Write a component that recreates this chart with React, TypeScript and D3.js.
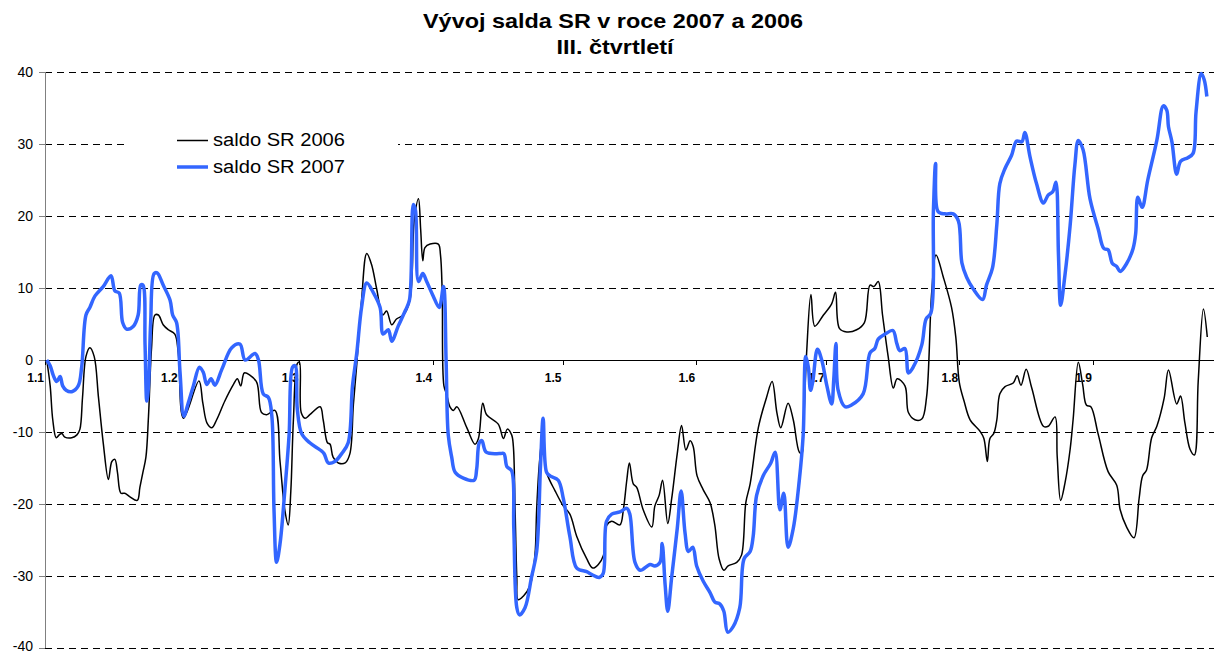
import React from "react";
import * as d3 from "d3";

// x = days since 1.1 (working-day samples), values in bn SKK
const days2006 = [0.4,1.2,1.8,2.6,3.3,3.9,4.6,6.2,7.4,8.1,8.7,9.5,10.4,11.4,12.4,13.5,14.7,15.5,16.2,16.8,17.6,18.5,19.7,21.4,22.0,22.7,23.4,24.0,24.7,25.5,26.3,27.4,28.6,30.1,30.9,32.1,35.7,36.6,37.6,38.7,39.8,41.7,43.7,44.6,45.4,46.2,47.5,49.1,50.2,51.4,53.3,54.5,55.6,56.4,57.0,57.6,58.5,59.0,59.4,60.3,61.4,63.8,64.5,65.5,66.1,66.8,68.0,69.6,70.7,71.5,72.3,73.4,74.6,75.7,76.9,78.3,79.2,80.4,81.5,83.1,84.6,85.6,86.6,87.1,87.6,88.1,89.3,91.2,91.7,92.1,92.5,93.1,93.9,94.7,95.5,97.8,99.7,100.5,101.5,102.4,105.1,106.3,107.2,108.2,108.6,109.0,109.4,109.7,110.9,112.5,113.6,114.0,114.6,115.4,116.3,118.3,120.2,121.7,123.3,125.6,127.0,128.3,129.5,130.2,131.4,133.3,134.1,134.9,135.5,136.4,137.2,138.7,140.7,141.4,142.4,143.2,144.4,145.3,146.6,147.6,148.6,149.6,150.3,151.2,152.6,154.2,155.3,156.3,157.4,158.4,160.4,161.5,162.5,163.5,165.4,167.3,168.6,169.7,170.6,172.3,173.5,174.9,175.5,175.8,176.6,177.6,178.5,180.5,182.4,183.3,184.2,185.9,188.2,190.0,191.3,192.2,193.2,194.2,195.5,196.7,197.6,199.4,200.2,201.7,203.3,204.4,205.6,206.6,208.3,210.2,211.2,212.0,213.1,214.5,216.8,217.7,218.5,219.1,220.0,220.7,221.4,222.6,224.5,225.4,226.3,227.5,228.8,231.5,232.6,234.2,234.7,235.5,236.5,237.7,238.4,239.6,240.6,241.5,242.5,244.2,246.5,248.5,249.3,250.8,252.5,253.7,254.5,255.4,256.6,257.8,259.5,260.5,262.4,263.3,264.3,265.5,266.5,267.4,268.6,269.5];
const saldo2006 = [0,-3.6,-8.3,-10.8,-10.4,-10.2,-10.7,-10.8,-10.4,-9.6,-5.2,0.5,1.7,0.5,-5.2,-11.5,-16.6,-14.1,-13.8,-15.6,-18.5,-18.5,-19,-19.5,-17.7,-15.6,-13.5,-7.8,1.6,6.25,6.25,4.9,4.2,3.6,1.0,-8.1,-2.9,-6.0,-8.8,-9.4,-8.3,-5.7,-3.4,-2.6,-3.6,-1.8,-2.1,-3.1,-7.3,-7.6,-7.0,-14.1,-20.8,-22.9,-18.2,-8.3,-0.5,-0.3,-7.3,-8.1,-7.6,-6.5,-8.3,-11.5,-11.7,-13.5,-14.3,-14.3,-13,-6.25,-0.5,8.3,14.8,13.3,9.9,6.25,6.8,4.9,5.7,6.25,8.3,19.3,22.4,18.2,13.8,15.6,16.1,16.1,14.6,9.4,-3.6,-4.7,-6.5,-7.0,-6.5,-9.4,-11.7,-10.9,-6.0,-7.6,-8.9,-10.9,-9.6,-10.4,-12,-20.8,-30.2,-33.3,-32.8,-31.3,-27.1,-20.8,-14.6,-10.4,-15.6,-18.2,-20.3,-21.4,-24.5,-27.6,-28.9,-28.4,-27.1,-23,-22.4,-22.9,-20.8,-16.7,-14.3,-17.2,-17.7,-20.8,-23.2,-20.3,-18.8,-16.7,-22.7,-19.3,-13,-9.1,-12.5,-11.2,-12,-16.1,-18,-19.8,-22.9,-27.6,-29.2,-28.6,-28.1,-27.1,-19.8,-17.2,-9.4,-5.2,-3.0,-7.3,-9.4,-6.0,-8.3,-12.8,-13,-10.4,1.0,9.1,4.7,6.25,7.8,9.4,4.4,3.9,4.2,5.2,10.4,10.2,10.9,6.25,0.5,-3.9,-2.6,-3.6,-7.3,-8.3,-8.2,-5.2,9.4,14.6,11.5,7.3,3.1,-3.1,-5.7,-8.3,-9.9,-10.9,-14.1,-10.9,-10.2,-8.3,-4.7,-3.7,-3.2,-2.2,-3.5,-1.3,-3.9,-9.2,-9.2,-7.9,-13.4,-19.5,-17.1,-12.4,-8.2,-0.3,-3.4,-6.3,-6.5,-10.3,-15.5,-17.4,-20.8,-23.2,-24.7,-19.2,-16.1,-15.3,-10.8,-9.2,-5.3,-1.4,-6.1,-5.0,-8.7,-12.4,-13.2,-2.9,7.1,3.2];

const days2007 = [0.4,1.2,1.9,2.7,3.5,4.1,4.9,6.2,7.7,8.5,9.5,10.4,11.6,13.5,15.3,16.2,17.2,18.0,18.9,20.5,21.6,22.2,22.7,23.2,23.6,24.0,24.5,25.3,26.0,27.4,29.0,29.6,30.5,31.3,32.2,33.2,34.4,35.8,36.7,37.5,38.5,39.4,41.0,43.3,45.2,46.4,48.7,49.5,50.6,51.8,52.6,53.1,53.7,54.5,55.6,56.6,57.4,58.0,58.5,59.5,61.4,63.8,64.7,65.7,67.2,68.8,70.3,71.3,72.3,73.4,74.6,76.1,77.7,78.4,79.6,80.4,81.9,83.5,84.5,85.4,85.9,86.6,87.6,88.5,90.0,91.4,92.4,93.0,93.5,94.3,95.1,97.0,99.5,100.1,100.7,101.3,102.3,105.5,106.4,107.1,108.2,108.7,109.4,110.0,111.3,112.8,114.0,114.9,115.5,116.3,117.1,119.0,120.2,121.7,123.3,125.6,126.8,128.5,129.4,130.2,131.4,133.3,134.9,135.6,136.8,138.0,140.3,141.4,142.6,143.1,143.8,144.4,145.3,146.6,147.5,148.4,149.2,150.2,151.1,152.6,154.2,155.3,156.5,157.4,158.3,159.6,161.1,162.1,163.5,164.2,165.0,166.5,168.3,169.3,170.4,171.3,172.3,173.5,174.9,175.8,176.4,177.0,177.5,178.0,179.1,180.1,181.3,182.4,182.9,183.4,183.9,185.5,187.0,189.7,191.3,192.4,193.2,194.8,196.6,197.5,198.2,199.4,200.2,201.3,203.3,204.3,205.4,206.0,206.5,207.1,208.7,210.6,211.8,212.6,213.7,215.2,217.4,218.3,219.7,220.7,221.4,222.6,224.1,225.3,226.5,227.2,228.4,229.9,231.5,232.6,233.7,234.4,235.0,235.5,236.5,237.7,238.8,239.6,240.7,242.3,244.2,245.5,246.5,247.5,248.5,249.3,250.8,252.3,252.9,253.4,254.4,255.7,257.8,259.3,260.1,260.5,261.3,262.4,263.3,265.0,266.2,266.9,268.1,268.8,269.4];
const saldo2007 = [0,-0.8,-2.1,-3.0,-2.3,-3.6,-4.2,-4.4,-3.6,-1.0,6.25,7.3,8.9,10.2,11.7,9.6,9.3,5.2,4.3,4.7,6.25,10.4,10.4,2.1,-5.7,-3.6,5.2,12,12.1,10.4,8.3,6.25,5.2,-1.6,-7.8,-6.0,-3.6,-1.0,-1.7,-3.4,-2.6,-3.5,-1.3,1.7,2.2,0,0.9,0,-4.7,-5.2,-7.8,-20.8,-28.1,-25.5,-18.2,-10.4,-1.0,-0.8,-6.8,-10.2,-11.5,-12.5,-13,-14.3,-14.1,-13,-11.5,-3.6,1.0,7.3,10.7,9.4,7.3,3.6,4.2,2.6,4.7,6.8,8.3,21.6,20.8,10.9,12,10.9,8.9,7.3,10.2,0,-10.4,-13.5,-15.6,-16.4,-16.7,-15.1,-11.5,-11.2,-12.8,-13,-13,-14.8,-15.4,-23.4,-34.4,-35.4,-34.4,-30.2,-26.6,-14.6,-8.1,-15.6,-16.1,-16.7,-19.3,-24.5,-28.9,-29.4,-29.8,-30.2,-29.7,-22.4,-21.4,-21.1,-20.6,-21.4,-28.1,-29.2,-28.4,-28.6,-28.1,-25.5,-31.3,-34.9,-30.2,-23.4,-18.2,-24,-26.6,-26,-28.6,-30.7,-32.3,-33.6,-33.9,-34.9,-37.8,-37,-34.4,-27.6,-26.6,-24.5,-18.8,-16.1,-14.3,-12.8,-20.8,-18.5,-26,-23.4,-16.7,-10.4,0.5,-1.0,-4.2,-3.1,1.5,0,-3.6,-6.1,-2.6,2.3,-4.2,-6.5,-6.25,-4.7,1.0,1.6,2.9,3.6,4.1,2.3,1.3,1.6,-1.8,-1.0,2.1,5.7,6.5,20.8,27.3,20.6,20.3,20.3,19.3,13.5,11.5,9.9,8.4,10.4,12.8,18.8,24.5,26.6,28.4,30.4,30.3,31.6,28.2,24.5,21.8,22.9,23.4,24.7,14.5,7.6,11.8,18.7,27.1,30.5,29.2,22.4,18.2,15.5,15.3,13.4,13,12.3,13.4,15.5,17.6,22.6,21.2,25,30.5,35.3,34.7,32.4,30.3,25.8,27.6,28.1,28.7,34.5,39.8,38.9,36.6];

const monthLabels = ["1.1", "1.2", "1.3", "1.4", "1.5", "1.6", "1.7", "1.8", "1.9"];
const monthStartDays = [0, 31, 59, 90, 120, 151, 181, 212, 243];
const yTicks = [40, 30, 20, 10, 0, -10, -20, -30, -40];
const seriesNames = ["saldo SR 2006", "saldo SR 2007"];
const titleLines = ["Vývoj salda SR v roce 2007 a 2006", "III. čtvrtletí"];

const W = 1214;
const H = 654;
const FONT = "'Liberation Sans', Arial, Helvetica, sans-serif";

export default function App() {
  const x = d3.scaleLinear().domain([0, 243]).range([45, 1093]);
  const y = d3.scaleLinear().domain([-40, 40]).range([648, 72]);

  const line = d3
    .line<[number, number]>()
    .x((d) => x(d[0]))
    .y((d) => y(d[1]))
    .curve(d3.curveCatmullRom.alpha(0.5));

  const pts2006: [number, number][] = days2006.map((d, i) => [d, saldo2006[i]]);
  const pts2007: [number, number][] = days2007.map((d, i) => [d, saldo2007[i]]);

  const blue = "#3366FF";

  return (
    <svg
      width={W}
      height={H}
      style={{ position: "fixed", left: 0, top: 0, background: "#fff" }}
      fontFamily={FONT}
    >
      <rect x={0} y={0} width={W} height={H} fill="#fff" />
      {/* title */}
      <text x={613} y={28} textAnchor="middle" fontWeight="bold" fontSize={21} fill="#000"
        textLength={380} lengthAdjust="spacingAndGlyphs">
        {titleLines[0]}
      </text>
      <text x={615} y={54} textAnchor="middle" fontWeight="bold" fontSize={21} fill="#000"
        textLength={117} lengthAdjust="spacingAndGlyphs">
        {titleLines[1]}
      </text>

      {/* gridlines */}
      {yTicks
        .filter((t) => t !== 0)
        .map((t) => (
          <line
            key={"g" + t}
            x1={45}
            x2={W}
            y1={Math.round(y(t)) + 0.5}
            y2={Math.round(y(t)) + 0.5}
            stroke="#000"
            strokeWidth={1}
            strokeDasharray="7,5"
          />
        ))}

      {/* y axis */}
      <line x1={45.5} x2={45.5} y1={y(40)} y2={y(-40)} stroke="#808080" strokeWidth={1} />
      {yTicks.map((t) => (
        <g key={"yt" + t}>
          <line x1={39} x2={45} y1={Math.round(y(t)) + 0.5} y2={Math.round(y(t)) + 0.5} stroke="#808080" />
          <text x={33} y={Math.min(y(t), 646)} dy="0.35em" textAnchor="end" fontSize={14} fill="#000">
            {t}
          </text>
        </g>
      ))}

      {/* x axis at zero */}
      <line x1={45} x2={W} y1={Math.round(y(0)) + 0.5} y2={Math.round(y(0)) + 0.5} stroke="#000" strokeWidth={1} />
      {monthStartDays.map((d, i) => (
        <g key={"xt" + i}>
          <line x1={Math.round(x(d)) + 0.5} x2={Math.round(x(d)) + 0.5} y1={y(0)} y2={y(0) + 5} stroke="#000" />
          <text
            x={x(d) - 1}
            y={382}
            textAnchor="end"
            fontWeight="bold"
            fontSize={12}
            fill="#000"
          >
            {monthLabels[i]}
          </text>
        </g>
      ))}

      {/* series */}
      <path d={line(pts2006) || ""} fill="none" stroke="#000" strokeWidth={1.5} strokeLinejoin="round" />
      <path d={line(pts2007) || ""} fill="none" stroke={blue} strokeWidth={3.5} strokeLinejoin="round" />

      {/* legend */}
      <rect x={128} y={124} width={270} height={57} fill="#fff" />
      <line x1={177} x2={208} y1={140.5} y2={140.5} stroke="#000" strokeWidth={1.5} />
      <text x={213} y={146} fontSize={18} fill="#000" textLength={132} lengthAdjust="spacingAndGlyphs">
        {seriesNames[0]}
      </text>
      <line x1={177} x2={208} y1={167} y2={167} stroke={blue} strokeWidth={3.5} />
      <text x={213} y={173} fontSize={18} fill="#000" textLength={132} lengthAdjust="spacingAndGlyphs">
        {seriesNames[1]}
      </text>
    </svg>
  );
}
